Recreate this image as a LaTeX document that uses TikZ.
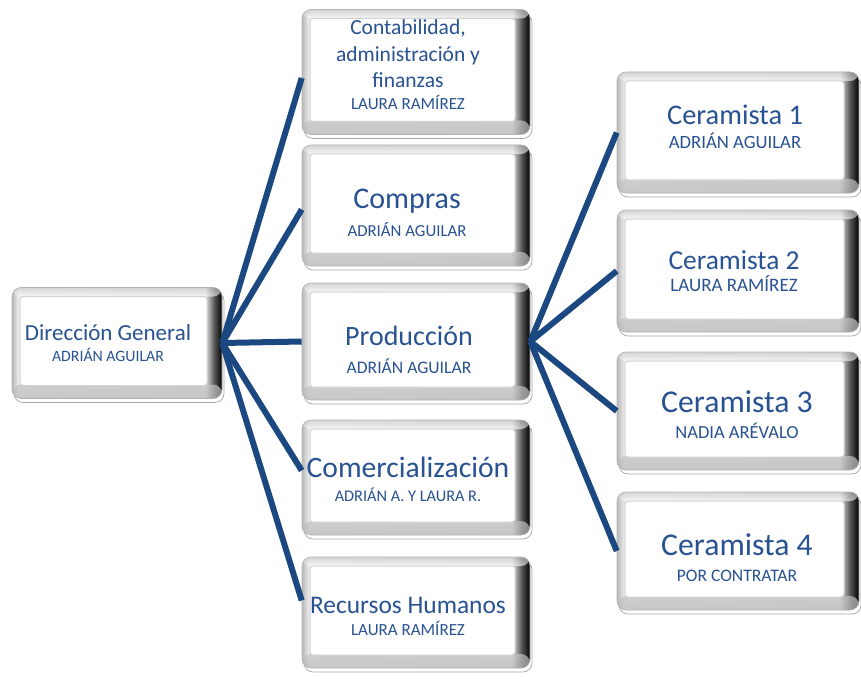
\documentclass[tikz,border=0pt]{standalone}
\usepackage{fontspec}
\setmainfont{Carlito}
\usetikzlibrary{shadows}

\definecolor{linkblue}{RGB}{28,72,130}
\definecolor{textblue}{RGB}{40,82,145}

% bevel: light left edge, white face, dark right edge
\pgfdeclarehorizontalshading{bevelh}{100bp}{%
  color(0bp)=(gray!55); color(25bp)=(gray!55); color(26.5bp)=(gray!15);
  color(71bp)=(gray!20); color(73.2bp)=(gray!65!black); color(75bp)=(black);
  color(100bp)=(black)}

\tikzset{
  orgbox/.style={rectangle, rounded corners=9pt, inner sep=0pt,
    shading=bevelh, draw=gray!60, line width=0.6pt,
    copy shadow={shadow xshift=2pt, shadow yshift=-4pt, fill=white, draw=gray!70, line width=0.7pt},
    path picture={
      % lower bevel band
      \shade[top color=white, bottom color=gray!55, opacity=0.7]
        ([yshift=14pt]path picture bounding box.south west) rectangle
        (path picture bounding box.south east);
      % upper bevel band
      \shade[top color=gray!45, bottom color=white, opacity=0.6]
        (path picture bounding box.north west) rectangle
        ([yshift=-9pt]path picture bounding box.north east);
      % white face
      \fill[white, draw=gray!35, line width=1pt, rounded corners=3pt]
        ([shift={(8pt,-9pt)}]path picture bounding box.north west) rectangle
        ([shift={(-15pt,13pt)}]path picture bounding box.south east);
    }},
  link/.style={draw=linkblue, line width=6pt},
  ttl/.style={text=textblue, anchor=base, inner sep=0pt},
  who/.style={text=textblue, anchor=base, inner sep=0pt},
}

\newcommand{\fs}[1]{\fontsize{#1}{#1}\selectfont}

\begin{document}
\begin{tikzpicture}[x=1pt, y=-1pt]
\useasboundingbox (0,0) rectangle (861,679);

% box centres
\path
  (117,343)   coordinate (dgC)
  (416,72)    coordinate (contabC)
  (416,205.5) coordinate (comprasC)
  (416,341.5) coordinate (prodC)
  (416,477.5) coordinate (comercC)
  (416,612.5) coordinate (rrhhC)
  (738,132.5) coordinate (cer1C)
  (738,271)   coordinate (cer2C)
  (738,411)   coordinate (cer3C)
  (738,551)   coordinate (cer4C);

\node[orgbox, minimum width=210pt, minimum height=111pt] (dg) at (dgC) {};
\node[orgbox, minimum width=228pt, minimum height=125pt] (contab) at (contabC) {};
\node[orgbox, minimum width=228pt, minimum height=121pt] (compras) at (comprasC) {};
\node[orgbox, minimum width=228pt, minimum height=117pt] (prod) at (prodC) {};
\node[orgbox, minimum width=228pt, minimum height=115pt] (comerc) at (comercC) {};
\node[orgbox, minimum width=228pt, minimum height=111pt] (rrhh) at (rrhhC) {};
\node[orgbox, minimum width=242pt, minimum height=121pt] (cer1) at (cer1C) {};
\node[orgbox, minimum width=242pt, minimum height=122pt] (cer2) at (cer2C) {};
\node[orgbox, minimum width=242pt, minimum height=118pt] (cer3) at (cer3C) {};
\node[orgbox, minimum width=242pt, minimum height=118pt] (cer4) at (cer4C) {};

% connectors
\draw[link] (dg.east) -- ([yshift=-6pt]contab.west);
\draw[link] (dg.east) -- ([yshift=-4pt]compras.west);
\draw[link] (dg.east) -- (prod.west);
\draw[link] (dg.east) -- ([yshift=7pt]comerc.west);
\draw[link] (dg.east) -- ([yshift=12pt]rrhh.west);
\draw[link] (prod.east) -- (cer1.west);
\draw[link] (prod.east) -- (cer2.west);
\draw[link] (prod.east) -- (cer3.west);
\draw[link] (prod.east) -- (cer4.west);

% labels
\node[ttl, font=\fs{23}] (dgT) at (108,340) {Dirección General};
\node[who, font=\fs{15.8}] (dgN) at (108,361) {ADRIÁN AGUILAR};

\node[ttl, font=\fs{21.5}] (contabT1) at (408,35) {Contabilidad,};
\node[ttl, font=\fs{21.5}] (contabT2) at (408,62) {administración y};
\node[ttl, font=\fs{21.5}] (contabT3) at (408,88) {finanzas};
\node[who, font=\fs{17}] (contabN) at (408,110) {LAURA RAMÍREZ};

\node[ttl, font=\fs{30}] (comprasT) at (407,208) {Compras};
\node[who, font=\fs{16.8}] (comprasN) at (407,236) {ADRIÁN AGUILAR};

\node[ttl, font=\fs{28}] (prodT) at (409,345) {Producción};
\node[who, font=\fs{17.6}] (prodN) at (409,373) {ADRIÁN AGUILAR};

\node[ttl, font=\fs{29.6}] (comercT) at (408,477) {Comercialización};
\node[who, font=\fs{16.3}] (comercN) at (408,501) {ADRIÁN A. Y LAURA R.};

\node[ttl, font=\fs{25.4}] (rrhhT) at (408,613) {Recursos Humanos};
\node[who, font=\fs{17}] (rrhhN) at (408,635) {LAURA RAMÍREZ};

\node[ttl, font=\fs{28.4}] (cer1T) at (735,125) {Ceramista 1};
\node[who, font=\fs{18.7}] (cer1N) at (735,149) {ADRIÁN AGUILAR};

\node[ttl, font=\fs{27.4}] (cer2T) at (734,269) {Ceramista 2};
\node[who, font=\fs{19}] (cer2N) at (734,291) {LAURA RAMÍREZ};

\node[ttl, font=\fs{31.7}] (cer3T) at (737,412) {Ceramista 3};
\node[who, font=\fs{18.5}] (cer3N) at (737,438) {NADIA ARÉVALO};

\node[ttl, font=\fs{31.7}] (cer4T) at (737,555) {Ceramista 4};
\node[who, font=\fs{17.6}] (cer4N) at (737,581) {POR CONTRATAR};
\end{tikzpicture}
\end{document}
